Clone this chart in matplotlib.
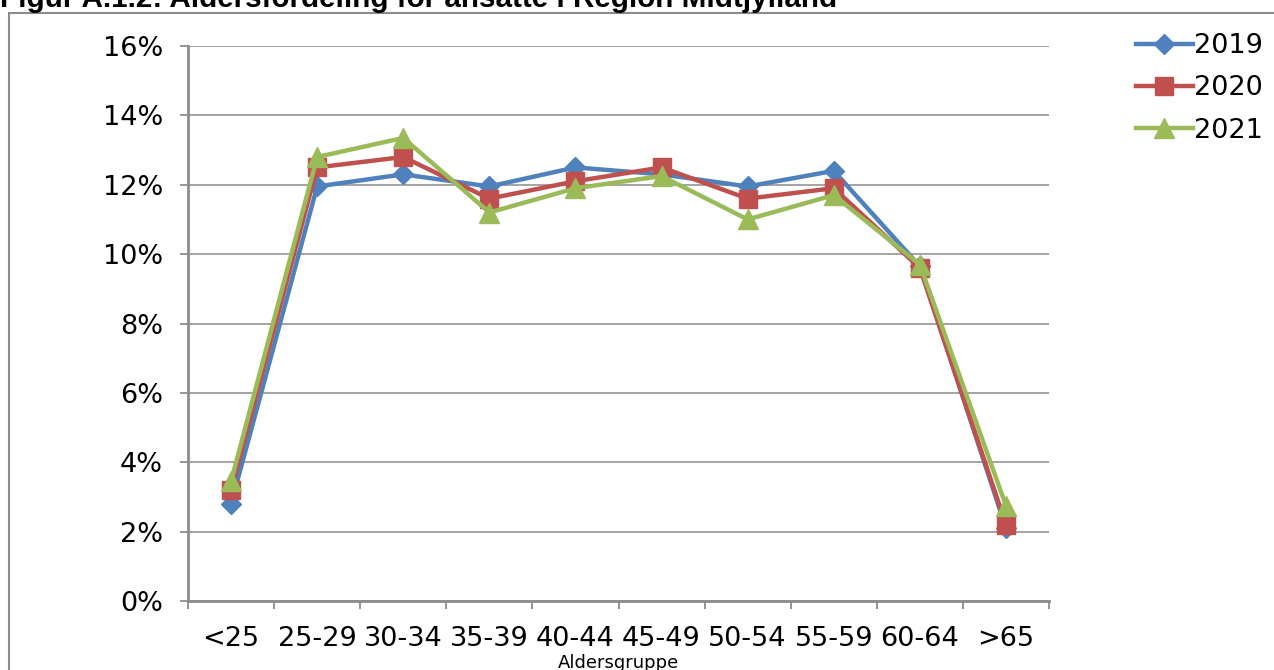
import numpy as np
import matplotlib
matplotlib.use("Agg")
import matplotlib.pyplot as plt
from matplotlib.patches import Rectangle
from matplotlib.ticker import FixedLocator, FuncFormatter

# age groups and share of employees (%) per year
age_groups = ["<25", "25-29", "30-34", "35-39", "40-44", "45-49",
              "50-54", "55-59", "60-64", ">65"]
share_2019 = [2.8, 11.95, 12.3, 11.95, 12.5, 12.3, 11.95, 12.4, 9.65, 2.1]
share_2020 = [3.2, 12.5, 12.8, 11.6, 12.1, 12.5, 11.6, 11.9, 9.6, 2.2]
share_2021 = [3.45, 12.8, 13.35, 11.2, 11.9, 12.25, 11.0, 11.7, 9.7, 2.75]

years = ["2019", "2020", "2021"]
colors = ["#4F81BD", "#C0504D", "#9BBB59"]
grid_grey = "#8C8C8C"

fig = plt.figure(figsize=(12.74, 6.70), dpi=100)
ax = fig.add_axes([188 / 1274, 69 / 670, 861 / 1274, 555 / 670])

x = np.arange(len(age_groups))
ax.plot(x, share_2019, color=colors[0], lw=3.2, marker="D", ms=10,
        label=years[0], zorder=3)
ax.plot(x, share_2020, color=colors[1], lw=3.2, marker="s", ms=13,
        label=years[1], zorder=4)
ax.plot(x, share_2021, color=colors[2], lw=3.2, marker="^", ms=14,
        label=years[2], zorder=5)

ax.set_xlim(-0.5, len(age_groups) - 0.5)
ax.set_ylim(0, 16)
ax.set_yticks(np.arange(0, 17, 2))
ax.yaxis.set_major_formatter(FuncFormatter(lambda v, p: f"{v:.0f}%"))
ax.yaxis.grid(True, color=grid_grey, lw=1.1)
ax.set_axisbelow(True)

# category boundaries carry the tick marks, centres carry the labels
ax.xaxis.set_major_locator(FixedLocator(np.arange(-0.5, len(age_groups), 1.0)))
ax.xaxis.set_minor_locator(FixedLocator(x))
ax.set_xticklabels([], minor=False)
ax.set_xticklabels(age_groups, minor=True)
ax.tick_params(axis="x", which="major", length=6, width=1.3, color=grid_grey)
ax.tick_params(axis="x", which="minor", length=0, pad=18, labelsize=19.5)
ax.tick_params(axis="y", length=6, width=1.3, color=grid_grey, pad=12,
               labelsize=19.5)

for side in ("top", "right"):
    ax.spines[side].set_visible(False)
for side in ("left", "bottom"):
    ax.spines[side].set_color(grid_grey)
    ax.spines[side].set_linewidth(2)

ax.set_xlabel("Aldersgruppe", fontsize=13, labelpad=0)
ax.xaxis.set_label_coords(0.5, -0.095)
ax.xaxis.label.set_va("top")

ax.legend(loc="upper left", bbox_to_anchor=(1136 / 1274, (670 - 33) / 670),
          bbox_transform=fig.transFigure, frameon=False, fontsize=19.5,
          handlelength=2.1, handletextpad=0.05, labelspacing=0.6,
          borderaxespad=0, borderpad=0)

# outer frame around the chart
fig.patches.append(Rectangle((9 / 1274, -0.2), 1.2, (670 - 13) / 670 + 0.2,
                             transform=fig.transFigure, fill=False,
                             edgecolor=grid_grey, lw=1.5))

fig.text(0, (670 - 7) / 670, "Figur A.1.2: Aldersfordeling for ansatte i Region Midtjylland",
         family="Liberation Sans", weight="bold", fontsize=21.3, va="baseline",
         ha="left")

fig.savefig("out.png", dpi=100)
